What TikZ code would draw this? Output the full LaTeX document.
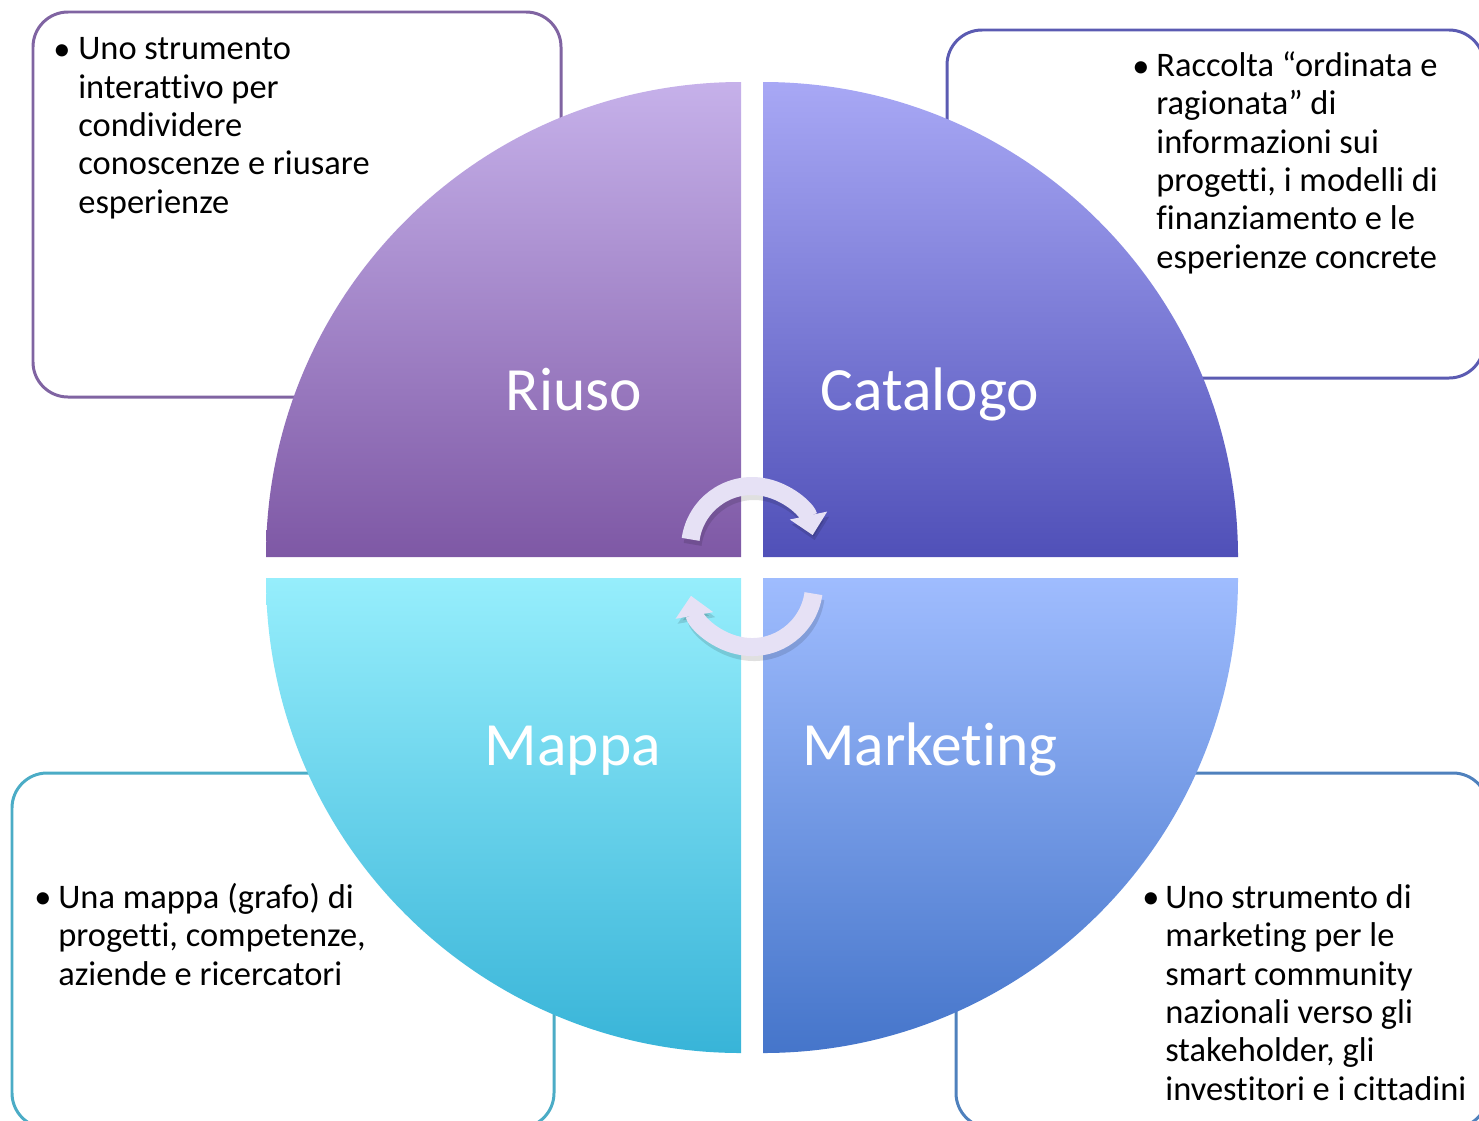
\documentclass[tikz,border=0pt]{standalone}
\usepackage{fontspec}
\setmainfont{Carlito}[Ligatures=NoCommon]
\usetikzlibrary{arrows.meta}

\definecolor{riusotop}{HTML}{C6B1EA}
\definecolor{riusobot}{HTML}{7E58A5}
\definecolor{catatop}{HTML}{A8A8F5}
\definecolor{catabot}{HTML}{5050B8}
\definecolor{mappatop}{HTML}{96EEFC}
\definecolor{mappabot}{HTML}{38B4D8}
\definecolor{marktop}{HTML}{9FBCFE}
\definecolor{markbot}{HTML}{4575CA}
\definecolor{riusoline}{HTML}{8064A2}
\definecolor{cataline}{HTML}{5B5BB2}
\definecolor{mappaline}{HTML}{4BACC6}
\definecolor{markline}{HTML}{4F81BD}
\definecolor{arrowfill}{HTML}{E6E1F5}

\begin{document}
\begin{tikzpicture}[x=0.02cm,y=-0.02cm,
infobox/.style={line width=1.7pt,rounded corners=0.7cm,fill=white},
quadlabel/.style={anchor=base,inner sep=0pt,text=white,font=\fontsize{35}{40}\selectfont},
bodytext/.style={anchor=base west,align=left,inner sep=0pt,font=\fontsize{19.6}{21.8}\selectfont},
bulletmark/.style={anchor=base west,inner sep=0pt,font=\fontsize{19.6}{21.8}\selectfont},
cyclearrow/.style={line width=0.36cm,draw=arrowfill,-{Triangle[width=0.74cm,length=0.4cm]}}]
\useasboundingbox (0,0) rectangle (1479,1120);
\clip (0,0) rectangle (1479,1120);

% description boxes
\draw[infobox,draw=riusoline] (33,12) rectangle (561,397);
\draw[infobox,draw=cataline] (947,30) rectangle (1484,378);
\draw[infobox,draw=mappaline] (12,773) rectangle (554,1128);
\draw[infobox,draw=markline] (956,773) rectangle (1488,1128);

% quarters of the disc
\shade[top color=riusotop,bottom color=riusobot] (741,557) -- (266,557) arc[start angle=180,end angle=270,radius=475] -- cycle;
\shade[top color=catatop,bottom color=catabot] (763,557) -- (763,82) arc[start angle=270,end angle=360,radius=475] -- cycle;
\shade[top color=marktop,bottom color=markbot] (763,578) -- (1238,578) arc[start angle=0,end angle=90,radius=475] -- cycle;
\shade[top color=mappatop,bottom color=mappabot] (741,578) -- (741,1053) arc[start angle=90,end angle=180,radius=475] -- cycle;

\draw (574,410) node[quadlabel] (riuso) {Riuso};
\draw (930,410) node[quadlabel] (catalogo) {Catalogo};
\draw (573,765) node[quadlabel] (mappa) {Mappa};
\draw (930,765) node[quadlabel] (marketing) {Marketing};

% cycle arrows
\coordinate (topc) at (752,548);
\coordinate (botc) at (752,585);
\draw[cyclearrow,draw=black,opacity=0.12] ([shift={(188:62)}]topc) ++(2,5) arc[start angle=188,end angle=348,radius=62];
\draw[cyclearrow,draw=black,opacity=0.12] ([shift={(8:62)}]botc) ++(2,5) arc[start angle=8,end angle=170,radius=62];
\draw[cyclearrow] ([shift={(188:62)}]topc) arc[start angle=188,end angle=348,radius=62];
\draw[cyclearrow] ([shift={(8:62)}]botc) arc[start angle=8,end angle=170,radius=62];

% texts (base = last line)
\draw (53,60) node[bulletmark] (riusob) {\textbullet};
\draw (78,213) node[bodytext] (riusotxt) {Uno strumento\\interattivo per\\condividere\\conoscenze e riusare\\esperienze};
\draw (1132,77) node[bulletmark] (catab) {\textbullet};
\draw (1156,268) node[bodytext] (catatxt) {Raccolta “ordinata e\\ragionata” di\\informazioni sui\\progetti, i modelli di\\finanziamento e le\\esperienze concrete};
\draw (34,908) node[bulletmark] (mappab) {\textbullet};
\draw (58,985) node[bodytext] (mappatxt) {Una mappa (grafo) di\\progetti, competenze,\\aziende e ricercatori};
\draw (1142,908) node[bulletmark] (markb) {\textbullet};
\draw (1165,1100) node[bodytext] (marktxt) {Uno strumento di\\marketing per le\\smart community\\nazionali verso gli\\stakeholder, gli\\investitori e i cittadini};
\end{tikzpicture}
\end{document}
